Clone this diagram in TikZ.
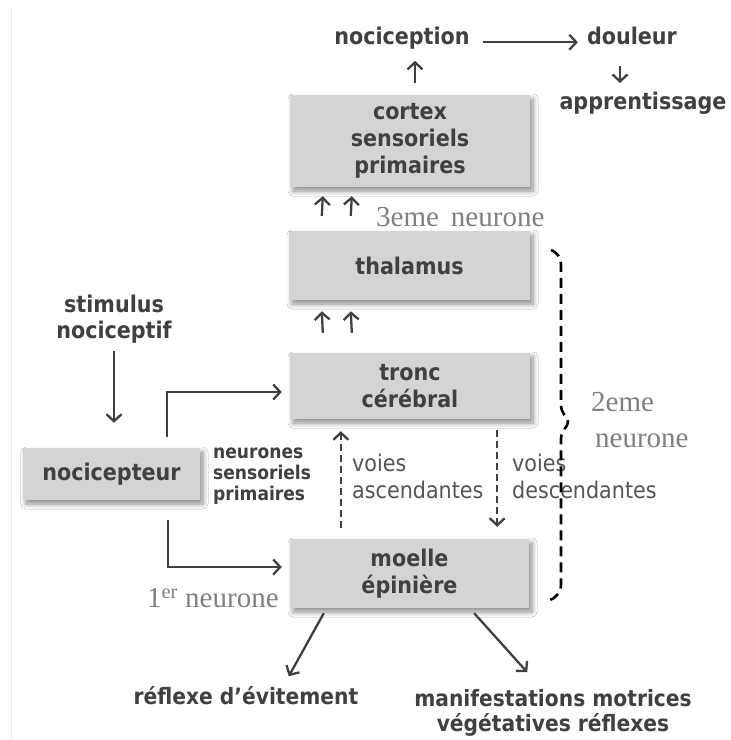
\documentclass[tikz,border=0pt]{standalone}
\usepackage{fontspec}
\setmainfont{DejaVu Sans Condensed}
\newfontfamily\rankfont{Liberation Serif}
\usetikzlibrary{arrows.meta,shadows.blur,calc}
\definecolor{boxfill}{HTML}{D4D4D4}
\definecolor{ink}{HTML}{404040}
\definecolor{softink}{HTML}{555555}
\definecolor{rankgrey}{HTML}{808080}
\begin{document}
\begin{tikzpicture}[x=1bp,y=1bp,
  box/.style={fill=boxfill, draw=none, inner sep=0pt, align=center, text=ink,
    font=\bfseries\fontsize{23bp}{27bp}\selectfont,
    blur shadow={shadow xshift=3bp, shadow yshift=-4bp, shadow blur radius=5bp,
      shadow blur steps=8, shadow opacity=45}},
  term/.style={text=ink, font=\bfseries\fontsize{23bp}{26bp}\selectfont, align=center, inner sep=0pt},
  bottomterm/.style={term, font=\bfseries\fontsize{22.5bp}{25bp}\selectfont},
  note/.style={text=softink, font=\fontsize{23bp}{27bp}\selectfont, align=left, inner sep=0pt},
  smallbold/.style={text=ink, font=\bfseries\fontsize{19bp}{21bp}\selectfont, align=left, inner sep=0pt},
  rank/.style={text=rankgrey, font=\rankfont\fontsize{29bp}{36bp}\selectfont, inner sep=0pt},
  arr/.style={draw=ink, line width=2.3bp, -{Straight Barb[length=7bp,width=15bp,line width=2.3bp]}},
  dasharr/.style={arr, dash pattern=on 7bp off 4bp},
  brace/.style={draw=black, line width=2.6bp, dash pattern=on 10bp off 6bp},
]
\useasboundingbox (0,0) rectangle (731,-740);
\fill[white] (0,0) rectangle (731,-740);
% thin page rule on the left
\draw[black!8, line width=1bp] (11,-8) -- (11,-740);

% boxes
\node[box, minimum width=240bp, minimum height=92bp] (cortex) at (410,-141) {cortex\\sensoriels\\primaires};
\node[box, minimum width=241bp, minimum height=69bp] (thal) at (409.5,-265.5) {thalamus};
\node[box, minimum width=240bp, minimum height=66bp] (tronc) at (410,-386) {tronc\\cérébral};
\node[box, minimum width=239bp, minimum height=69bp] (moelle) at (409.5,-573.5) {moelle\\épinière};
\node[box, minimum width=177bp, minimum height=52bp] (nocic) at (111.5,-474) {nocicepteur};

% free-standing terms
\node[term, anchor=base] (nocicep) at (402,-45) {nociception};
\node[term, anchor=base] (douleur) at (632,-45) {douleur};
\node[term, anchor=base] (appr) at (643,-109) {apprentissage};
\node[term] (stim) at (114,-319) {stimulus\\nociceptif};
\node[bottomterm, anchor=base] (reflexe) at (246,-704) {réflexe d’évitement};
\node[bottomterm] (manif) at (553,-713) {manifestations motrices\\végétatives réflexes};

% side notes
\node[smallbold, anchor=north west] (sens) at (213,-448) {neurones\\sensoriels\\primaires};
\node[note, anchor=north west] (asc) at (352,-454) {voies\\ascendantes};
\node[note, anchor=north west] (desc) at (512,-454) {voies\\descendantes};

% neuron ranks
\node[rank, anchor=base west] (r3) at (376,-226) {3eme\hspace{12bp}neurone};
\node[rank, anchor=base west] (r2a) at (591,-411) {2eme};
\node[rank, anchor=base west] (r2b) at (595,-447) {neurone};
\node[rank, anchor=base west] (r1) at (147,-607) {1\textsuperscript{er} neurone};

% connectors
\draw[arr] ([xshift=5bp,yshift=12bp]cortex.north) -- ++(0,22);
\draw[arr] ([xshift=13bp]nocicep.mid east) -- ([xshift=-9bp]douleur.mid west);
\draw[arr] ([xshift=-12bp,yshift=-21bp]douleur.base) -- ++(0,-17);

\draw[arr] ([xshift=33bp,yshift=15bp]thal.north west) -- ([xshift=33bp,yshift=-9bp]cortex.south west);
\draw[arr] ([xshift=62bp,yshift=15bp]thal.north west) -- ([xshift=62bp,yshift=-9bp]cortex.south west);
\draw[arr] ([xshift=33bp,yshift=20bp]tronc.north west) -- ([xshift=33bp,yshift=-11bp]thal.south west);
\draw[arr] ([xshift=62bp,yshift=20bp]tronc.north west) -- ([xshift=62bp,yshift=-11bp]thal.south west);

\draw[arr] ([yshift=-8bp]stim.south) -- ([yshift=25bp]stim.south |- nocic.north);
\coordinate (upfork) at (167,-437);
\coordinate (downfork) at (168,-520);
\draw[arr] (upfork) |- ([xshift=-8bp,yshift=-6bp]tronc.west);
\draw[arr] (downfork) |- ([xshift=-8bp,yshift=6.5bp]moelle.west);

\draw[dasharr] ([xshift=51bp,yshift=11bp]moelle.north west) -- ([xshift=51bp,yshift=-12bp]tronc.south west);
\draw[dasharr] ([xshift=-33bp,yshift=-11bp]tronc.south east) -- ([xshift=-32bp,yshift=12bp]moelle.north east);

\draw[arr] ([xshift=34bp,yshift=-5bp]moelle.south west) -- ([xshift=-1bp,yshift=-68bp]moelle.south west);
\draw[arr] ([xshift=-55bp,yshift=-5bp]moelle.south east) -- ([xshift=-2bp,yshift=-64bp]moelle.south east);

% brace for the second neuron
\draw[brace] (551,-250) .. controls (558,-253) and (561,-258) .. (561,-266)
  -- (561,-405) .. controls (561,-414) and (568,-417) .. (568,-422)
  .. controls (568,-427) and (561,-430) .. (561,-439)
  -- (561,-584) .. controls (561,-592) and (557,-597) .. (550,-600);
\end{tikzpicture}
\end{document}
